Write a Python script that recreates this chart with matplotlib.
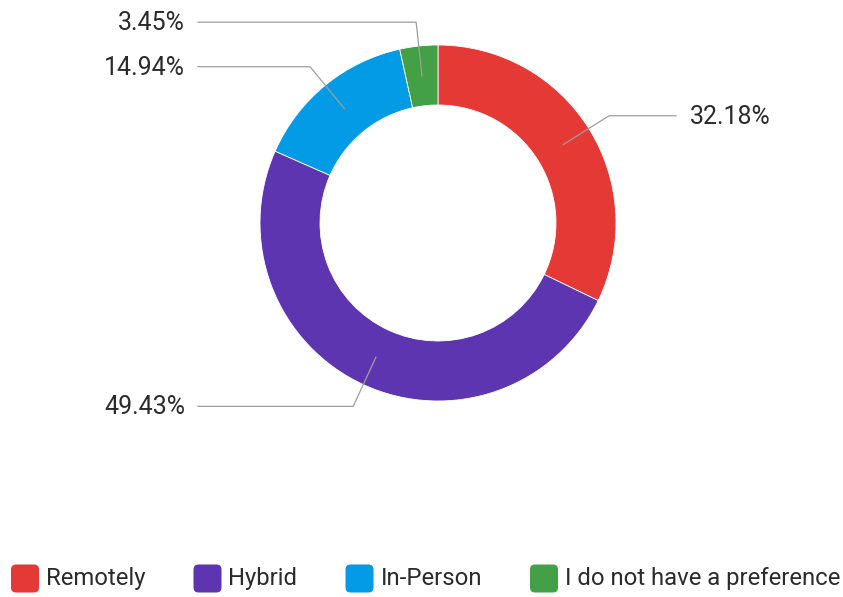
import numpy as np
import matplotlib
matplotlib.use("Agg")
import matplotlib.pyplot as plt
from matplotlib.patches import FancyBboxPatch

categories = ["Remotely", "Hybrid", "In-Person", "I do not have a preference"]
shares = [32.18, 49.43, 14.94, 3.45]
colors = ["#e53935", "#5e35b1", "#039be5", "#43a047"]

plt.rcParams["font.family"] = ["Roboto", "DejaVu Sans"]

W, H = 843, 597
fig = plt.figure(figsize=(W / 100, H / 100), dpi=100)
ax = fig.add_axes([0, 0, 1, 1])
ax.set_xlim(0, W)
ax.set_ylim(0, H)
ax.set_aspect("equal")
ax.axis("off")

cx, cy = 438, H - 223
r_out, ring = 178, 60

wedges, _ = ax.pie(shares, colors=colors, startangle=90, counterclock=False,
                   radius=r_out, center=(cx, cy),
                   wedgeprops=dict(width=ring, edgecolor="white", linewidth=0.6))
ax.set_xlim(0, W)
ax.set_ylim(0, H)

# leader lines: from middle of the ring out to an elbow, then flat to the label
r_mid, r_elbow = 148, 202
for w, val in zip(wedges, shares):
    ang = np.deg2rad((w.theta1 + w.theta2) / 2)
    x0, y0 = cx + r_mid * np.cos(ang), cy + r_mid * np.sin(ang)
    x1, y1 = cx + r_elbow * np.cos(ang), cy + r_elbow * np.sin(ang)
    if np.cos(ang) >= 0:
        x2, tx, ha = 676, 690, "left"
    else:
        x2, tx, ha = 198, 185, "right"
    ax.plot([x0, x1, x2], [y0, y1, y1], color="#9e9e9e", lw=0.9,
            solid_joinstyle="miter", zorder=3)
    ax.text(tx, y1 - 1, f"{val:.2f}%", ha=ha, va="center",
            fontsize=18, color="#2b2b2b")

# legend row along the bottom
fig.canvas.draw()
renderer = fig.canvas.get_renderer()
box, gap_txt, gap_item = 28, 7, 48
ly = 18.5
x = 11
for name, c in zip(categories, colors):
    ax.add_patch(FancyBboxPatch((x, ly - box / 2), box, box,
                                boxstyle="round,pad=0,rounding_size=5",
                                facecolor=c, edgecolor="none"))
    t = ax.text(x + box + gap_txt, ly, name, ha="left", va="center",
                fontsize=17.2, color="#2b2b2b")
    tw = t.get_window_extent(renderer).width
    x = x + box + gap_txt + tw + gap_item

fig.savefig("out.png", dpi=100)
